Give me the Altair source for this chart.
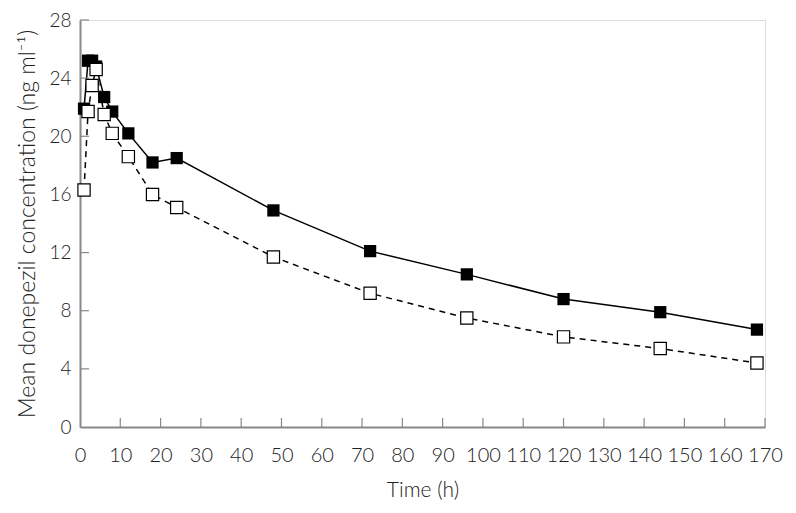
import altair as alt
import pandas as pd

times = [1, 2, 3, 4, 6, 8, 12, 18, 24, 48, 72, 96, 120, 144, 168]
solid_vals = [21.9, 25.2, 25.2, 24.8, 22.7, 21.7, 20.2, 18.2, 18.5, 14.9, 12.1, 10.5, 8.8, 7.9, 6.7]
open_vals = [16.3, 21.7, 23.5, 24.6, 21.5, 20.2, 18.6, 16.0, 15.1, 11.7, 9.2, 7.5, 6.2, 5.4, 4.4]
x_ticks = list(range(0, 171, 10))
y_ticks = [0, 4, 8, 12, 16, 20, 24, 28]

W, H = 685, 407
FONT = "Lato"
TXT = "#222"

solid = pd.DataFrame({"t": times, "c": solid_vals})
opn = pd.DataFrame({"t": times, "c": open_vals})

xs = alt.Scale(domain=[0, 170], nice=False, zero=False)
ys = alt.Scale(domain=[0, 28], nice=False)

xaxis = alt.Axis(values=x_ticks, title="Time (h)", tickSize=0, labelPadding=18,
                 labelOverlap=False, labelFlush=False, grid=False, domainColor="#888", domainWidth=2,
                 labelFont=FONT, labelFontSize=20, labelFontWeight=300, labelColor=TXT,
                 titleFont=FONT, titleFontSize=21, titleFontWeight=300, titleColor=TXT,
                 titlePadding=14)
yaxis = alt.Axis(values=y_ticks, title="Mean donepezil concentration (ng ml⁻¹)", tickSize=0,
                 labelOverlap=False, labelFlush=False, labelPadding=9, grid=False,
                 domainColor="#888", domainWidth=2,
                 labelFont=FONT, labelFontSize=19, labelFontWeight=300, labelColor=TXT,
                 titleFont=FONT, titleFontSize=23, titleFontWeight=300, titleColor=TXT,
                 titlePadding=9)

base_x = alt.X("t:Q", scale=xs, axis=xaxis)
base_y = alt.Y("c:Q", scale=ys, axis=yaxis)

line_open = alt.Chart(opn).mark_line(color="black", strokeWidth=1.5, strokeDash=[6, 5]).encode(x=base_x, y=base_y)
line_solid = alt.Chart(solid).mark_line(color="black", strokeWidth=1.5).encode(x="t:Q", y="c:Q")
pts_solid = alt.Chart(solid).mark_point(shape="square", filled=True, color="black", size=150, opacity=1).encode(x="t:Q", y="c:Q")
pts_open = alt.Chart(opn).mark_point(shape="square", filled=True, fill="white", stroke="black", strokeWidth=1.2, size=150, opacity=1).encode(x="t:Q", y="c:Q")

xt = alt.Chart(pd.DataFrame({"t": x_ticks[1:]})).mark_rule(color="#888", strokeWidth=1.2).encode(
    x="t:Q", y=alt.value(H), y2=alt.value(H - 9))
yt = alt.Chart(pd.DataFrame({"c": y_ticks[1:]})).mark_rule(color="#888", strokeWidth=1.2).encode(
    y="c:Q", x=alt.value(0), x2=alt.value(9))

chart = alt.layer(line_open, line_solid, xt, yt, pts_solid, pts_open).properties(
    width=W, height=H,
    autosize=alt.AutoSizeParams(type="none"),
    padding={"left": 72, "top": 12, "right": 20, "bottom": 78},
).configure_view(stroke=None).configure(background="white")

chart.save("out.html", embed_options={"renderer": "svg", "actions": False})
